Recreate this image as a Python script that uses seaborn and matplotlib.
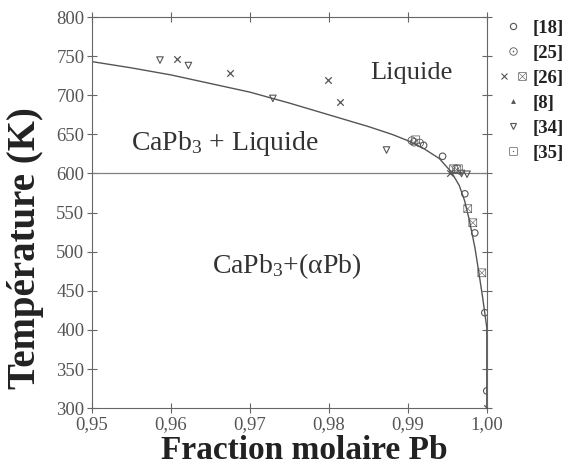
import matplotlib
matplotlib.use("Agg")
import matplotlib.pyplot as plt
import seaborn as sns
from matplotlib.lines import Line2D
from matplotlib.legend_handler import HandlerTuple

# Calculated phase boundary: liquidus of CaPb3 down to the eutectic, then (αPb) solvus
curve_x = [0.950, 0.955, 0.960, 0.965, 0.970, 0.975, 0.980, 0.985, 0.988, 0.990,
           0.992, 0.994, 0.9955, 0.9965, 0.9972, 0.9978, 0.9985, 0.9990, 0.9995,
           1.0000, 1.0000]
curve_T = [743, 735, 726, 715, 704, 690, 675, 660, 650, 642,
           632, 619, 602, 585, 565, 540, 505, 473, 440,
           403, 300]
eutectic_T = 600

# Experimental points, one pair of arrays per reference
ref18_x = [0.9920, 0.9944, 0.99722, 0.99848, 0.99975, 1.0000]
ref18_T = [636, 622, 574, 524, 422, 322]
ref25_x = [0.9905, 0.9908, 0.9915]
ref25_T = [642, 640, 639]
ref26a_x = [0.9608, 0.9675, 0.9799, 0.9814, 0.9953, 1.0000]
ref26a_T = [747, 728, 720, 691, 600, 300]
ref26b_x = [0.9958, 0.9962, 0.99759, 0.99823, 0.99937]
ref26b_T = [606, 605, 555, 537, 473]
ref8_x = [0.9966]
ref8_T = [602]
ref34_x = [0.9586, 0.9622, 0.9729, 0.9873, 0.9968, 0.9975]
ref34_T = [745, 738, 696, 630, 600, 599]
ref35_x = [0.9910, 0.9964]
ref35_T = [643, 606]

ref_labels = ["[18]", "[25]", "[26]", "[8]", "[34]", "[35]"]
x_ticks = [0.95, 0.96, 0.97, 0.98, 0.99, 1.00]
x_tick_labels = ["0,95", "0,96", "0,97", "0,98", "0,99", "1,00"]
y_ticks = [300, 350, 400, 450, 500, 550, 600, 650, 700, 750, 800]

sns.set_theme(style="ticks")
plt.rcParams["font.family"] = ["Liberation Serif", "DejaVu Serif"]
plt.rcParams["mathtext.fontset"] = "custom"
plt.rcParams["mathtext.rm"] = "Liberation Serif"
plt.rcParams["mathtext.it"] = "Liberation Serif:italic"
plt.rcParams["mathtext.bf"] = "Liberation Serif:bold"
plt.rcParams["mathtext.fallback"] = "stix"

ink = "#555555"
mk = "#555555"

fig = plt.figure(figsize=(5.72, 4.74), dpi=100)
ax = fig.add_axes([0.161, 0.139, 0.690, 0.825])

sns.lineplot(x=curve_x, y=curve_T, sort=False, estimator=None, color="#555555",
             linewidth=1.0, ax=ax)
ax.axhline(eutectic_T, color="#808080", linewidth=0.9, zorder=1)

open_kw = dict(facecolor="none", edgecolor=mk, linewidth=0.8, zorder=3)
glyph_kw = dict(color=mk, edgecolor="none", linewidth=0, zorder=3)
sns.scatterplot(x=ref18_x, y=ref18_T, marker="o", s=22, ax=ax, **open_kw)
sns.scatterplot(x=ref25_x, y=ref25_T, marker="$\u2299$", s=38, ax=ax, **glyph_kw)
sns.scatterplot(x=ref26a_x, y=ref26a_T, marker="x", s=22, color=mk,
                linewidth=0.9, ax=ax, zorder=3)
sns.scatterplot(x=ref26b_x, y=ref26b_T, marker="$\u22a0$", s=38, ax=ax, **glyph_kw)
sns.scatterplot(x=ref8_x, y=ref8_T, marker="^", s=10, color=mk,
                linewidth=0, ax=ax, zorder=3)
sns.scatterplot(x=ref34_x, y=ref34_T, marker="v", s=22, ax=ax, **open_kw)
sns.scatterplot(x=ref35_x, y=ref35_T, marker="$\u22a1$", s=38, ax=ax, **glyph_kw)

ax.set_xlim(0.95, 1.00)
ax.set_ylim(300, 800)
ax.set_xticks(x_ticks)
ax.set_xticklabels(x_tick_labels)
ax.set_yticks(y_ticks)
ax.tick_params(axis="both", direction="inout", length=7, width=0.8,
               colors="#666666", labelcolor=ink, labelsize=13.5,
               top=True, right=True, pad=2)
for side in ["top", "right", "bottom", "left"]:
    ax.spines[side].set_visible(True)
    ax.spines[side].set_color("#666666")
    ax.spines[side].set_linewidth(0.8)

ax.set_xlabel("Fraction molaire Pb", fontsize=24, fontweight="bold",
              color="#222222")
ax.xaxis.set_label_coords(0.537, -0.069)
ax.set_ylabel("Température (K)", fontsize=28, fontweight="bold",
              color="#222222")
ax.yaxis.set_label_coords(-0.122, 0.41)

ax.text(0.9905, 729, "Liquide", fontsize=19, color="#333333",
        ha="center", va="center")
ax.text(0.9668, 638, "CaPb$_3$ + Liquide", fontsize=20, color="#333333",
        ha="center", va="center")
ax.text(0.9746, 482, "CaPb$_3$+(αPb)", fontsize=20, color="#333333",
        ha="center", va="center")

# Reference key to the right of the frame
def key(marker, size, fill="none", lw=0.8):
    return Line2D([], [], linestyle="none", marker=marker, markersize=size,
                  markerfacecolor=fill, markeredgecolor=mk, color=mk,
                  markeredgewidth=lw)

handles = [
    key("o", 4.5),
    key("$\u2299$", 6, fill=mk, lw=0),
    (key("x", 5), key("$\u22a0$", 6, fill=mk, lw=0)),
    key("^", 3.5, fill=mk, lw=0),
    key("v", 4.5),
    key("$\u22a1$", 6, fill=mk, lw=0),
]
leg = fig.legend(handles, ref_labels, loc="upper left",
                 bbox_to_anchor=(0.872, 0.958), bbox_transform=fig.transFigure,
                 frameon=False, handlelength=1.5, handletextpad=0.3,
                 labelspacing=0.42, borderpad=0, borderaxespad=0,
                 handler_map={tuple: HandlerTuple(ndivide=None, pad=0.4)},
                 prop={"family": "Liberation Serif", "weight": "bold", "size": 13.5})
for t in leg.get_texts():
    t.set_color("#222222")

fig.savefig("out.png", dpi=100)
